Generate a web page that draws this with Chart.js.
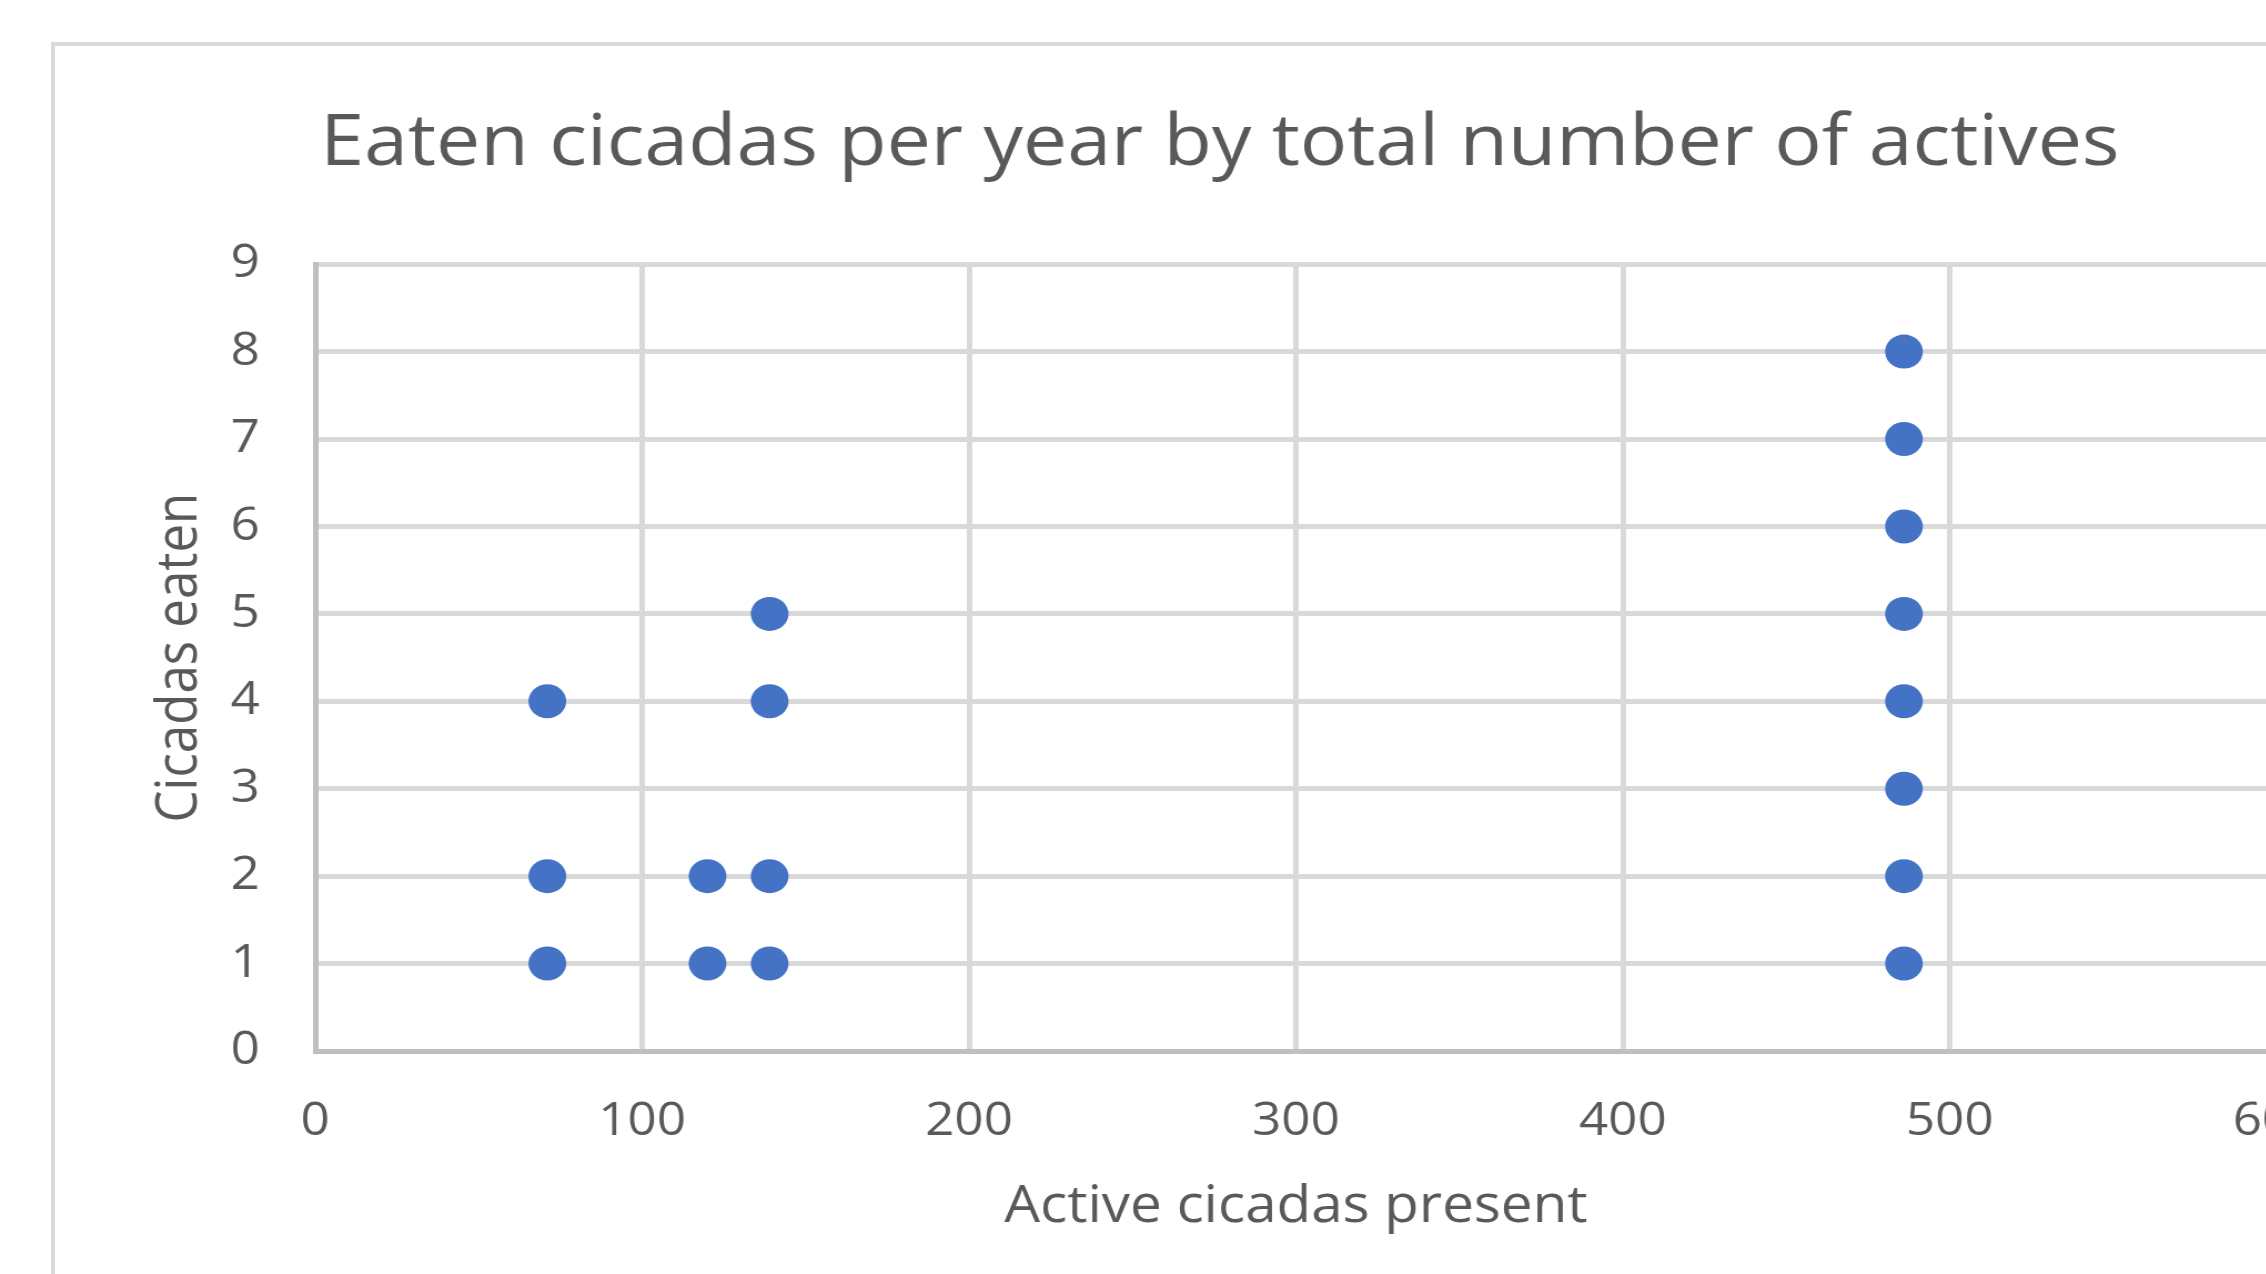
<!DOCTYPE html>
<html>
<head>
<meta charset="utf-8">
<title>Eaten cicadas per year by total number of actives</title>
<script src="https://cdn.jsdelivr.net/npm/chart.js@4/dist/chart.umd.min.js"></script>
<style>
  html, body { margin: 0; padding: 0; background: #ffffff; }
  body { width: 2266px; height: 1274px; overflow: hidden; position: relative; }
  #frame {
    position: absolute; left: 51px; top: 42px;
    width: 2500px; height: 1400px;
    border: 4px solid #d9d9d9; background: #ffffff;
  }
  /* the chart is shown slightly widened horizontally */
  #chart {
    position: absolute; left: 0; top: 0;
    transform-origin: 0 0;
    transform: scaleX(1.11);
  }
</style>
</head>
<body>
<div id="frame"></div>
<canvas id="chart" width="2198" height="1274"></canvas>
<script>
// Observations: number of active cicadas present vs. cicadas eaten that year
const activePresent = [71, 71, 71, 120, 120, 139, 139, 139, 139, 486, 486, 486, 486, 486, 486, 486, 486];
const cicadasEaten  = [4, 2, 1, 2, 1, 5, 4, 2, 1, 8, 7, 6, 5, 4, 3, 2, 1];

// Axis ticks
const xTicks = [0, 100, 200, 300, 400, 500, 600];
const yTicks = [0, 1, 2, 3, 4, 5, 6, 7, 8, 9];

const chartTitle = 'Eaten cicadas per year by total number of actives';
const xTitle = 'Active cicadas present';
const yTitle = 'Cicadas eaten';

const FONT = "'Open Sans', 'Noto Sans', sans-serif";
const TEXT = '#595959';
const GRID = '#d9d9d9';
const AXIS = '#bfbfbf';
const MARK = '#4472C4';

const points = activePresent.map((x, i) => ({ x: x, y: cicadasEaten[i] }));

function build() {
  new Chart(document.getElementById('chart'), {
    type: 'scatter',
    data: {
      datasets: [{
        data: points,
        pointStyle: 'circle',
        pointRadius: 17,
        pointHoverRadius: 17,
        borderWidth: 0,
        backgroundColor: MARK,
        borderColor: MARK
      }]
    },
    options: {
      responsive: false,
      animation: false,
      devicePixelRatio: 1,
      layout: { padding: 0 },
      plugins: {
        legend: { display: false },
        tooltip: { enabled: false },
        title: {
          display: true,
          text: chartTitle,
          color: TEXT,
          font: { family: FONT, size: 71, weight: 'normal', lineHeight: 1.2 },
          padding: { top: 102, bottom: 77 }
        }
      },
      scales: {
        x: {
          type: 'linear',
          min: xTicks[0],
          max: xTicks[xTicks.length - 1],
          afterBuildTicks: s => { s.ticks = xTicks.map(v => ({ value: v })); },
          afterFit: s => { s.height = 223; },
          ticks: { color: TEXT, font: { family: FONT, size: 46 }, padding: 43, maxRotation: 0 },
          grid: { color: GRID, lineWidth: 5, drawTicks: false },
          border: { color: AXIS, width: 5 },
          title: {
            display: true, text: xTitle, color: TEXT,
            font: { family: FONT, size: 51, lineHeight: 1.2 },
            padding: { top: 0, bottom: 36 }
          }
        },
        y: {
          type: 'linear',
          min: yTicks[0],
          max: yTicks[yTicks.length - 1],
          afterBuildTicks: s => { s.ticks = yTicks.map(v => ({ value: v })); },
          afterFit: s => { s.width = 284; },
          ticks: { color: TEXT, font: { family: FONT, size: 46 }, padding: 50 },
          grid: { color: GRID, lineWidth: 5, drawTicks: false },
          border: { color: AXIS, width: 5 },
          title: {
            display: true, text: yTitle, color: TEXT,
            font: { family: FONT, size: 51, lineHeight: 1.2 },
            padding: { top: 132, bottom: 0 }
          }
        },
        // empty spacer on the right so the plot runs past the visible edge
        spacer: {
          type: 'linear',
          position: 'right',
          display: true,
          grid: { display: false },
          border: { display: false },
          ticks: { display: false },
          afterFit: s => { s.width = 147; }
        }
      }
    }
  });
}

if (document.fonts && document.fonts.load) {
  Promise.all([
    document.fonts.load("46px 'Open Sans'"),
    document.fonts.load("71px 'Open Sans'")
  ]).then(build, build);
} else {
  build();
}
</script>
</body>
</html>
